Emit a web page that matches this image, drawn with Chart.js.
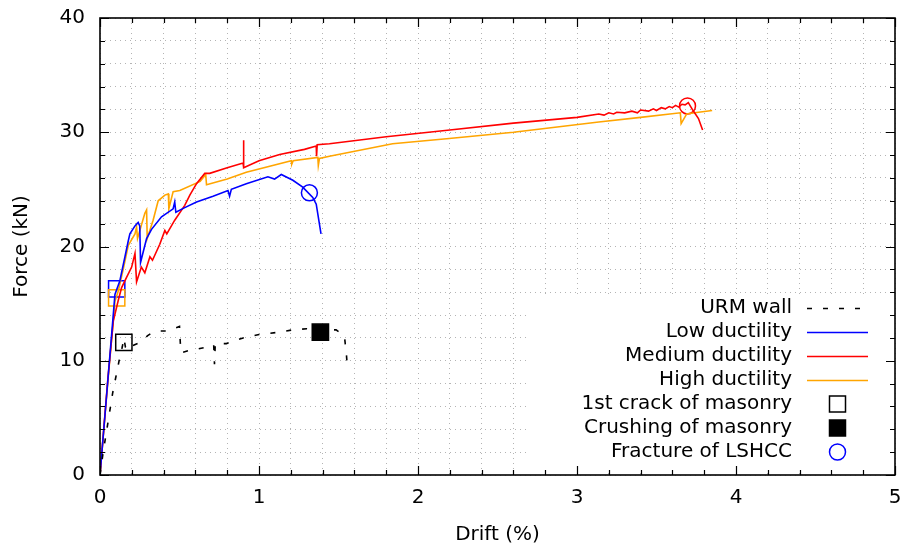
<!DOCTYPE html>
<html><head><meta charset="utf-8">
<script src="https://cdn.jsdelivr.net/npm/chart.js@4.4.1/dist/chart.umd.min.js"></script>
<style>html,body{margin:0;padding:0;background:#fff;}#wrap{width:908px;height:551px;}</style>
</head><body><div id="wrap"><canvas id="c" width="908" height="551"></canvas></div>
<script>
// ---- data ----
const urmDrift = [0, 0.02, 0.05, 0.08, 0.1, 0.12, 0.14, 0.15, 0.16, 0.18, 0.2, 0.25, 0.3, 0.334, 0.38, 0.418, 0.46, 0.50, 0.505, 0.51, 0.56, 0.606, 0.67, 0.715, 0.72, 0.725, 0.795, 0.9, 1.0, 1.13, 1.21, 1.30, 1.386, 1.485, 1.537, 1.55, 1.557];
const urmForce = [0, 2.0, 4.6, 7.2, 8.6, 10.0, 11.2, 12.0, 11.2, 10.9, 11.3, 11.6, 12.2, 12.5, 12.6, 12.6, 12.8, 13.0, 11.6, 10.7, 10.9, 11.0, 11.2, 11.4, 9.7, 11.5, 11.5, 12.0, 12.3, 12.5, 12.7, 12.8, 12.7, 12.7, 12.2, 10.5, 9.2];

const lowDrift = [0, 0.05, 0.094, 0.125, 0.157, 0.178, 0.188, 0.22, 0.24, 0.25, 0.255, 0.293, 0.324, 0.387, 0.46, 0.47, 0.477, 0.533, 0.607, 0.711, 0.805, 0.815, 0.826, 0.92, 1.056, 1.098, 1.14, 1.213, 1.275, 1.338, 1.36, 1.39];
const lowForce = [0, 8.4, 15.8, 17.0, 19.1, 20.5, 21.1, 21.8, 22.1, 21.8, 18.6, 20.7, 21.5, 22.6, 23.3, 23.9, 23.0, 23.4, 23.9, 24.4, 24.9, 24.4, 25.0, 25.5, 26.1, 25.9, 26.3, 25.8, 25.2, 24.3, 23.7, 21.1];

const medDrift = [0, 0.05, 0.084, 0.115, 0.136, 0.167, 0.199, 0.22, 0.23, 0.26, 0.282, 0.314, 0.33, 0.376, 0.408, 0.42, 0.47, 0.533, 0.565, 0.607, 0.659, 0.69, 0.8, 0.9, 0.902, 0.905, 1.0, 1.13, 1.286, 1.36, 1.362, 1.366, 1.443, 1.8, 2.2, 2.6, 3.0, 3.137, 3.17, 3.2, 3.23, 3.25, 3.3, 3.345, 3.38, 3.4, 3.45, 3.48, 3.5, 3.53, 3.555, 3.58, 3.6, 3.62, 3.64, 3.66, 3.68, 3.70, 3.73, 3.764, 3.79];
const medForce = [0, 8.5, 13.5, 15.3, 16.4, 17.3, 18.2, 19.4, 16.9, 18.2, 17.7, 19.1, 18.8, 20.2, 21.4, 21.1, 22.3, 23.6, 24.5, 25.5, 26.4, 26.4, 26.9, 27.3, 29.3, 26.9, 27.5, 28.05, 28.5, 28.8, 27.9, 28.9, 29.0, 29.6, 30.2, 30.8, 31.3, 31.6, 31.5, 31.7, 31.6, 31.75, 31.7, 31.85, 31.7, 31.95, 31.85, 32.05, 31.9, 32.15, 32.05, 32.25, 32.15, 32.35, 32.2, 32.45, 32.4, 32.6, 31.9, 31.2, 30.2, 29.1];

const highDrift = [0, 0.05, 0.094, 0.115, 0.146, 0.178, 0.22, 0.23, 0.236, 0.282, 0.293, 0.297, 0.334, 0.366, 0.408, 0.43, 0.433, 0.46, 0.502, 0.63, 0.665, 0.67, 0.8, 0.92, 1.203, 1.206, 1.215, 1.37, 1.373, 1.38, 1.443, 1.84, 2.196, 2.6, 3.137, 3.4, 3.65, 3.655, 3.69, 3.74, 3.85];
const highForce = [0, 8.3, 15.2, 16.1, 18.0, 20.1, 21.1, 21.7, 20.7, 22.9, 23.2, 20.7, 22.3, 24.0, 24.5, 24.6, 23.3, 24.8, 24.9, 25.7, 26.3, 25.4, 25.9, 26.5, 27.5, 27.2, 27.5, 27.8, 27.1, 27.7, 27.9, 29.0, 29.45, 30.0, 30.9, 31.3, 31.7, 30.75, 31.6, 31.7, 31.9];

const crackDrift = [0.15, 0.105, 0.105];
const crackForce = [11.6, 16.3, 15.5];
const crackColors = ['#000000', '#0000ff', '#ffa500'];

const crushDrift = [1.386];
const crushForce = [12.5];

const fractureDrift = [1.317, 3.695];
const fractureForce = [24.7, 32.3];
const fractureColors = ['#0000ff', '#ff0000'];

const xTickLabels = ['0', '1', '2', '3', '4', '5'];
const yTickLabels = ['0', '10', '20', '30', '40'];

const FONT = "'DejaVu Sans', sans-serif";
const pts = (xs, ys) => xs.map((x, i) => ({x: x, y: ys[i]}));

const lineDs = (label, xs, ys, color, dash) => ({
  label, data: pts(xs, ys), borderColor: color, borderWidth: 1.6, borderDash: dash || [],
  showLine: true, pointRadius: 0, fill: false, tension: 0, legendKind: 'line'
});
const markDs = (label, xs, ys, colors, style, filled, kind) => ({
  label, data: pts(xs, ys), showLine: false, pointStyle: style,
  pointRadius: style === 'rect' ? 11.5 : 8, pointBorderWidth: 1.5,
  pointBorderColor: colors, pointBackgroundColor: filled ? colors : 'rgba(0,0,0,0)',
  borderColor: colors[colors.length - 1], legendKind: kind, legendColor: kind === 'circ' ? '#0000ff' : '#000000'
});

const datasets = [
  lineDs('URM wall', urmDrift, urmForce, '#000000', [5, 11]),
  lineDs('Low ductility', lowDrift, lowForce, '#0000ff'),
  lineDs('Medium ductility', medDrift, medForce, '#ff0000'),
  lineDs('High ductility', highDrift, highForce, '#ffa500'),
  markDs('1st crack of masonry', crackDrift, crackForce, crackColors, 'rect', false, 'open'),
  markDs('Crushing of masonry', crushDrift, crushForce, ['#000000'], 'rect', true, 'filled'),
  markDs('Fracture of LSHCC', fractureDrift, fractureForce, fractureColors, 'circle', false, 'circ')
];

const framePlugin = {
  id: 'frame',
  beforeDatasetsDraw(chart) {
    const ctx = chart.ctx;
    ctx.save();
    ctx.fillStyle = '#ffffff';
    ctx.fillRect(530, 294, 363, 176);
    ctx.restore();
  },
  afterDatasetsDraw(chart) {
    const ctx = chart.ctx, a = chart.chartArea;
    const xs = chart.scales.x, ys = chart.scales.y;
    ctx.save();
    ctx.strokeStyle = '#000'; ctx.lineWidth = 1.2; ctx.setLineDash([]);
    ctx.beginPath();
    xs.ticks.forEach(t => {
      const px = Math.round(xs.getPixelForValue(t.value)) + 0.5;
      const L = t.label !== '' ? 9 : 5;
      ctx.moveTo(px, a.bottom); ctx.lineTo(px, a.bottom - L);
      ctx.moveTo(px, a.top); ctx.lineTo(px, a.top + L);
    });
    ys.ticks.forEach(t => {
      const py = Math.round(ys.getPixelForValue(t.value)) + 0.5;
      const L = t.label !== '' ? 9 : 5;
      ctx.moveTo(a.left, py); ctx.lineTo(a.left + L, py);
      ctx.moveTo(a.right, py); ctx.lineTo(a.right - L, py);
    });
    ctx.stroke();
    ctx.lineWidth = 1.6;
    ctx.strokeRect(a.left, a.top, a.right - a.left, a.bottom - a.top);
    ctx.restore();
  },
  afterDraw(chart) {
    const ctx = chart.ctx;
    ctx.save();
    ctx.font = '20px ' + FONT;
    ctx.textAlign = 'right'; ctx.textBaseline = 'middle';
    const textX = 792, s0 = 807, s1 = 868, mx = 837.5;
    chart.data.datasets.forEach((ds, i) => {
      const y = 308 + i * 24;
      ctx.fillStyle = '#000';
      ctx.fillText(ds.label, textX, y);
      ctx.setLineDash([]);
      if (ds.legendKind === 'line') {
        ctx.strokeStyle = ds.borderColor; ctx.lineWidth = 1.6;
        ctx.setLineDash(ds.borderDash);
        ctx.beginPath(); ctx.moveTo(s0, y + 0.5); ctx.lineTo(s1, y + 0.5); ctx.stroke();
      } else if (ds.legendKind === 'open') {
        ctx.strokeStyle = '#000'; ctx.lineWidth = 1.5;
        ctx.strokeRect(mx - 8, y - 8, 16, 16);
      } else if (ds.legendKind === 'filled') {
        ctx.fillStyle = '#000'; ctx.strokeStyle = '#000'; ctx.lineWidth = 1.5;
        ctx.fillRect(mx - 8, y - 8, 16, 16); ctx.strokeRect(mx - 8, y - 8, 16, 16);
      } else {
        ctx.strokeStyle = ds.legendColor; ctx.lineWidth = 1.5;
        ctx.beginPath(); ctx.arc(mx, y, 8, 0, Math.PI * 2); ctx.stroke();
      }
    });
    ctx.restore();
  }
};

const isNear = (v, step) => Math.abs(v / step - Math.round(v / step)) < 1e-6;

new Chart(document.getElementById('c'), {
  type: 'scatter',
  data: {datasets},
  options: {
    responsive: false, animation: false, devicePixelRatio: 1,
    layout: {padding: {left: 0, right: 11, top: 18, bottom: 0}},
    plugins: {legend: {display: false}, tooltip: {enabled: false}},
    scales: {
      x: {
        type: 'linear', min: 0, max: 5,
        afterFit: s => { s.height = 76; s.paddingLeft = 0; s.paddingRight = 0; },
        ticks: {
          stepSize: 0.2, autoSkip: false, maxRotation: 0, padding: 11,
          color: '#000', font: {family: FONT, size: 20},
          callback: v => isNear(v, 1) ? xTickLabels[Math.round(v)] : ''
        },
        grid: {color: '#b4b4b4', lineWidth: 1, drawTicks: false},
        border: {display: false, dash: [1, 4]},
        title: {display: true, text: 'Drift (%)', color: '#000', font: {family: FONT, size: 20}, padding: {top: 0, bottom: 4}}
      },
      y: {
        type: 'linear', min: 0, max: 40,
        afterFit: s => { s.width = 100; s.paddingTop = 0; s.paddingBottom = 0; },
        ticks: {
          stepSize: 2, autoSkip: false, padding: 15,
          color: '#000', font: {family: FONT, size: 20},
          callback: v => isNear(v, 10) ? yTickLabels[Math.round(v / 10)] : ''
        },
        grid: {color: '#b4b4b4', lineWidth: 1, drawTicks: false},
        border: {display: false, dash: [1, 4]},
        title: {display: true, text: 'Force (kN)', color: '#000', font: {family: FONT, size: 20}, padding: {top: 10, bottom: 0}}
      }
    }
  },
  plugins: [framePlugin]
});
</script>
</body></html>
